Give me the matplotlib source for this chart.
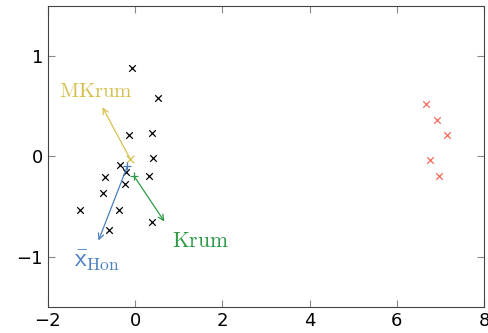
import matplotlib.pyplot as plt

# honest clients (black) and attackers (red)
hon_x = [-0.08, 0.53, -0.15, 0.38, 0.40, -0.34, -0.21, 0.31, -0.70, -0.23, -0.73, -1.26, -0.36, 0.38, -0.60]
hon_y = [0.88, 0.58, 0.21, 0.23, -0.02, -0.09, -0.16, -0.20, -0.21, -0.28, -0.37, -0.54, -0.54, -0.66, -0.73]
att_x = [6.67, 6.92, 7.15, 6.77, 6.97]
att_y = [0.52, 0.36, 0.21, -0.04, -0.20]

# aggregator arrows: start -> end
mkrum_start, mkrum_end = (-0.11, -0.03), (-0.75, 0.49)
krum_start, krum_end = (-0.02, -0.20), (0.67, -0.65)
hon_start, hon_end = (-0.18, -0.10), (-0.84, -0.84)

c_mkrum = "#d6c150"
c_krum = "#2e9a45"
c_hon = "#4a7fc1"
c_att = "#f26b5b"

plt.rcParams['mathtext.fontset'] = 'cm'
fig, ax = plt.subplots(figsize=(4.89, 3.33), dpi=100)
fig.subplots_adjust(left=0.098, right=0.99, top=0.982, bottom=0.079)

ax.scatter(hon_x, hon_y, marker='x', color='black', s=22, linewidths=0.9, zorder=3)
ax.scatter(att_x, att_y, marker='x', color=c_att, s=22, linewidths=0.9, zorder=3)

for start, end, col, mk in [(mkrum_start, mkrum_end, c_mkrum, 'x'),
                            (krum_start, krum_end, c_krum, '+'),
                            (hon_start, hon_end, c_hon, '+')]:
    ax.annotate('', xy=end, xytext=start,
                arrowprops=dict(arrowstyle='->', color=col, lw=0.9, shrinkA=0, shrinkB=0))
    ax.scatter([start[0]], [start[1]], marker=mk, color=col, s=30, linewidths=0.9, zorder=4)

ax.text(-0.89, 0.65, r'$\mathrm{MKrum}$', color=c_mkrum, fontsize=15, ha='center', va='center')
ax.text(0.85, -0.84, r'$\mathrm{Krum}$', color=c_krum, fontsize=15.5, ha='left', va='center')
ax.text(-1.40, -1.04, r'$\bar{\mathsf{x}}_{\mathrm{Hon}}$', color=c_hon, fontsize=18, ha='left', va='center')

ax.set_xlim(-2, 8)
ax.set_ylim(-1.5, 1.5)
ax.set_xticks([-2, 0, 2, 4, 6, 8])
ax.set_yticks([-1, 0, 1])
ax.tick_params(direction='in', top=True, right=True, length=5, width=0.8,
               color='#888888', labelsize=13)
for sp in ax.spines.values():
    sp.set_color('#444444')
    sp.set_linewidth(0.8)

plt.savefig("out.png", dpi=100)
plt.close()
